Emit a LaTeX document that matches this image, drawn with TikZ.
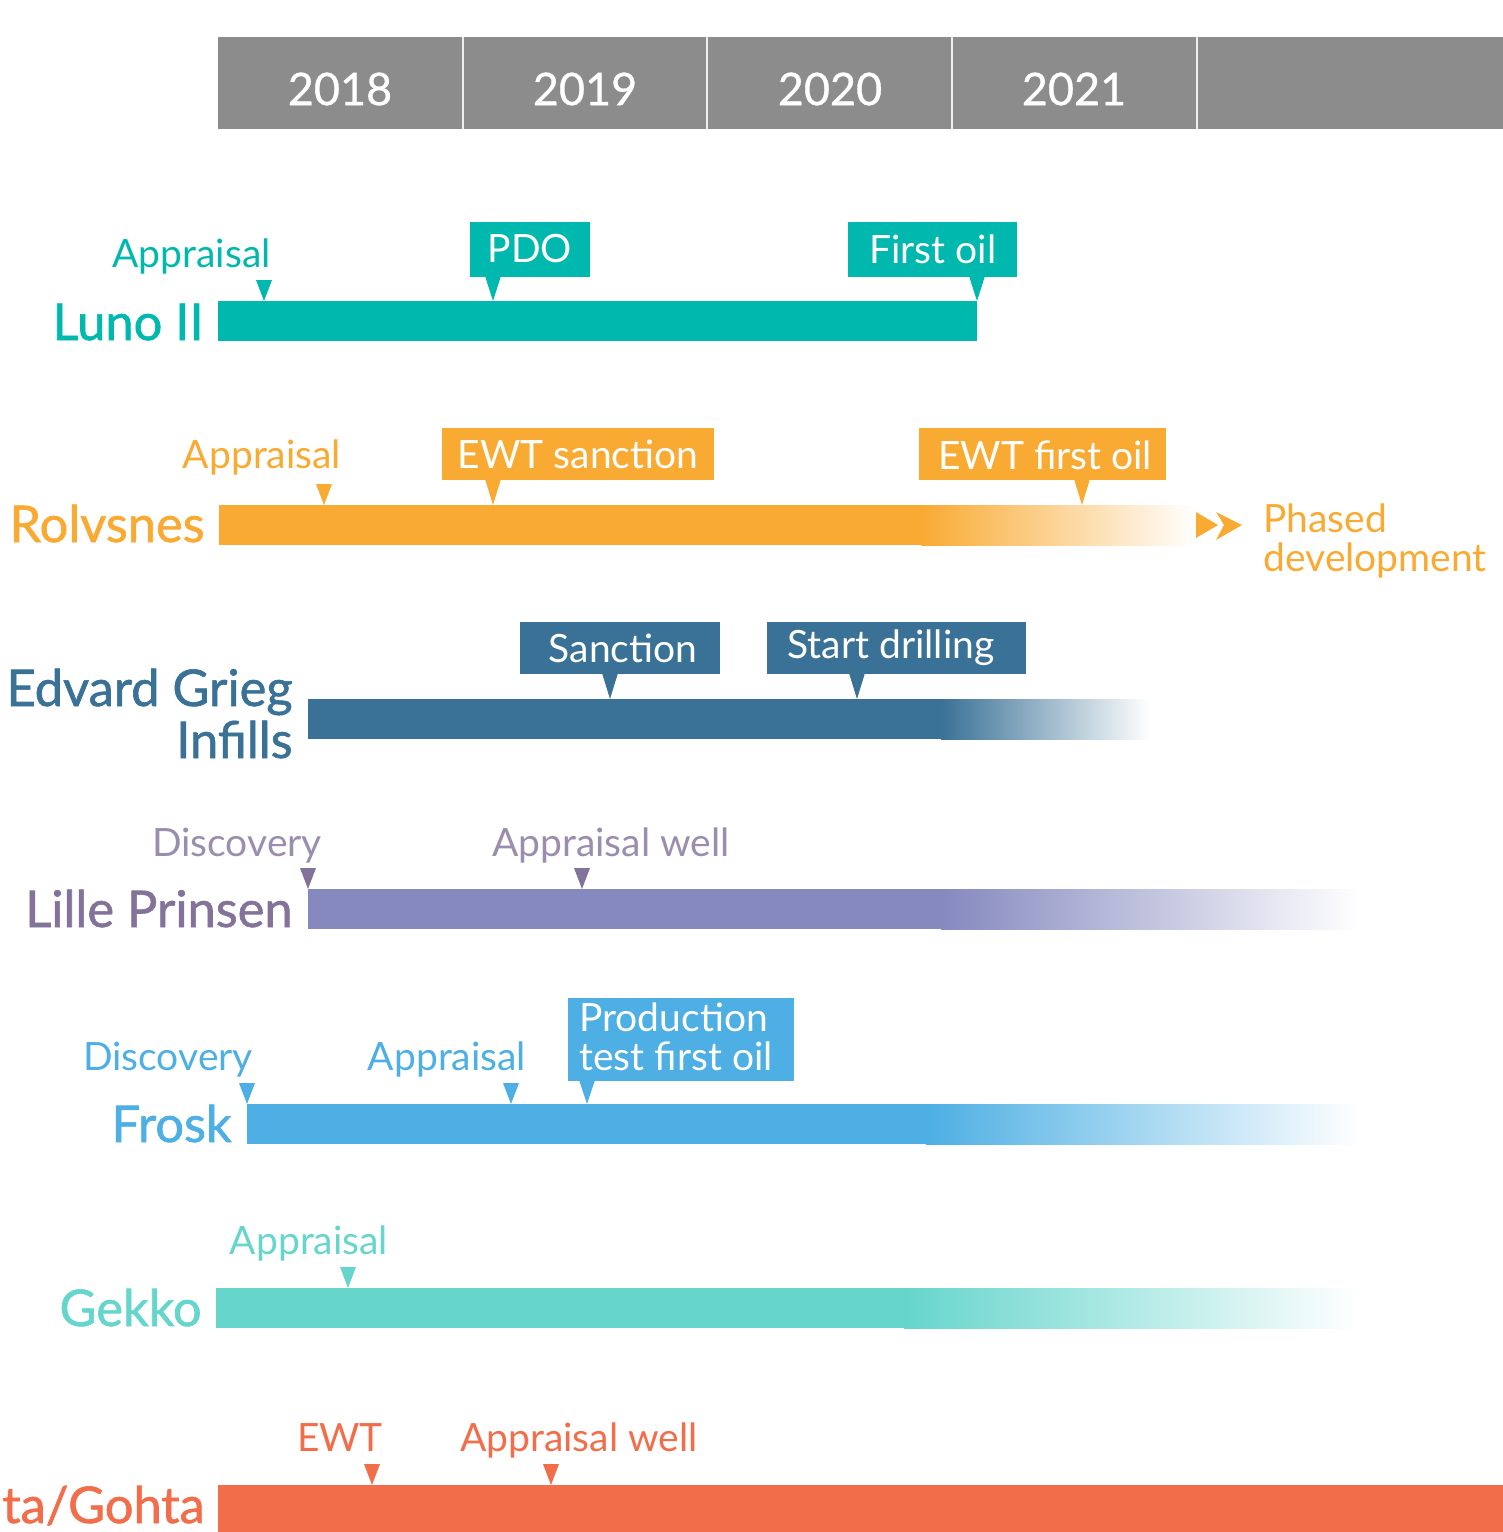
\documentclass[tikz,border=0pt]{standalone}
\usepackage{fontspec}
\setmainfont{Lato}
\newfontfamily\labfont[FakeBold=1.2]{Lato}
\newfontfamily\yearfont[FakeBold=0.7]{Lato}
\definecolor{hdr}{HTML}{8C8C8C}
\definecolor{luno}{HTML}{00B8AD}
\definecolor{rolv}{HTML}{F9AA33}
\definecolor{edv}{HTML}{3A7196}
\definecolor{lilbar}{HTML}{8589BE}
\definecolor{lillab}{HTML}{83739A}
\definecolor{liltxt}{HTML}{9B8DAD}
\definecolor{frosk}{HTML}{4DAFE3}
\definecolor{gekko}{HTML}{66D5CC}
\definecolor{alta}{HTML}{F26E4B}
% pin: x, bar top, colour
\newcommand\pin[3]{\fill[#3] (#1-8,#2-21) -- (#1+8,#2-21) -- (#1,#2) -- cycle;}
% callout pointer: x, box bottom, bar top, colour
\newcommand\ptr[4]{\fill[#4] (#1-8,#2-1) -- (#1+8,#2-1) -- (#1,#3) -- cycle;}
\begin{document}
\begin{tikzpicture}[x=0.5pt,y=-0.5pt,
  year/.style={text=white,font=\yearfont\fontsize{22.5}{27}\selectfont},
  rowlabel/.style={anchor=base east,font=\labfont\fontsize{25.3}{26}\selectfont,align=right,inner sep=0pt},
  small/.style={anchor=base,font=\fontsize{19.5}{20}\selectfont,inner sep=0pt},
  boxtxt/.style={text=white,font=\fontsize{19.5}{20}\selectfont,inner sep=0pt}]
\useasboundingbox (0,0) rectangle (1503,1532);
\clip (0,0) rectangle (1503,1532);

% year header
\fill[hdr] (218,37) rectangle (1503,129);
\foreach \x in {463,707,952,1197} \draw[white!85!hdr,line width=0.8pt] (\x,37) -- (\x,129);
\node[year] (y18) at (340,89) {2018};
\node[year] (y19) at (585,89) {2019};
\node[year] (y20) at (830,89) {2020};
\node[year] (y21) at (1074,89) {2021};

% Luno II
\fill[luno] (218,301) rectangle (977,341);
\node[rowlabel,text=luno] (lunol) at (204,340) {Luno II};
\node[small,text=luno,anchor=base east] (luapp) at (271,267) {Appraisal};
\pin{264}{301}{luno}
\fill[luno] (470,222) rectangle (590,277);
\node[boxtxt] (pdo) at (530,249) {PDO};
\ptr{493}{277}{301}{luno}
\fill[luno] (848,222) rectangle (1017,277);
\node[boxtxt] (lufo) at (933,249) {First oil};
\ptr{977}{277}{301}{luno}

% Rolvsnes
\fill[rolv] (219,505) rectangle (922,545);
\shade[left color=rolv,right color=white] (921,505) rectangle (1196,545);
\node[rowlabel,text=rolv] (rolvl) at (205,542) {Rolvsnes};
\node[small,text=rolv] (roapp) at (262,468) {Appraisal};
\pin{324}{505}{rolv}
\fill[rolv] (442,428) rectangle (714,480);
\node[boxtxt] (ewts) at (578,454) {EWT sanction};
\ptr{493}{480}{505}{rolv}
\fill[rolv] (919,428) rectangle (1166,480);
\node[boxtxt] (ewtf) at (1045,455) {EWT first oil};
\ptr{1082}{480}{505}{rolv}
\fill[rolv] (1196,512) -- (1218,525) -- (1196,538) -- cycle;
\fill[rolv] (1216,512) -- (1242,525) -- (1216,540) -- (1224,525) -- cycle;
\node[anchor=north west,text=rolv,font=\fontsize{19.5}{19.5}\selectfont,align=left,inner sep=0pt] (phase) at (1263,503) {Phased\\development};

% Edvard Grieg Infills
\fill[edv] (308,699) rectangle (942,739);
\shade[left color=edv,right color=white] (941,699) rectangle (1150,739);
\node[rowlabel,text=edv] (edvl) at (293,758) {Edvard Grieg\\Infills};
\fill[edv] (520,622) rectangle (720,674);
\node[boxtxt] (sanc) at (623,648) {Sanction};
\ptr{610}{674}{699}{edv}
\fill[edv] (767,622) rectangle (1026,674);
\node[boxtxt] (sdr) at (891,648) {Start drilling};
\ptr{857}{674}{699}{edv}

% Lille Prinsen
\fill[lilbar] (308,889) rectangle (942,929);
\shade[left color=lilbar,right color=white] (941,889) rectangle (1360,929);
\node[rowlabel,text=lillab] (lill) at (293,927) {Lille Prinsen};
\node[small,text=liltxt] (lidis) at (237,856) {Discovery};
\pin{308}{889}{lillab}
\node[small,text=liltxt] (liapp) at (611,856) {Appraisal well};
\pin{582}{889}{lillab}

% Frosk
\fill[frosk] (247,1104) rectangle (927,1144);
\shade[left color=frosk,right color=white] (926,1104) rectangle (1360,1144);
\node[rowlabel,text=frosk] (froskl) at (232,1142) {Frosk};
\node[small,text=frosk] (frdis) at (168,1070) {Discovery};
\pin{247}{1104}{frosk}
\node[small,text=frosk] (frapp) at (447,1070) {Appraisal};
\pin{511}{1104}{frosk}
\fill[frosk] (568,998) rectangle (794,1081);
\node[boxtxt,anchor=north west,align=left,font=\fontsize{19.5}{19.5}\selectfont] (prod) at (579,1002) {Production\\test first oil};
\ptr{587}{1081}{1104}{frosk}

% Gekko
\fill[gekko] (216,1288) rectangle (905,1328);
\shade[left color=gekko,right color=white] (904,1288) rectangle (1360,1328);
\node[rowlabel,text=gekko] (gekl) at (202,1326) {Gekko};
\node[small,text=gekko] (geapp) at (309,1254) {Appraisal};
\pin{348}{1288}{gekko}

% Alta/Gohta
\fill[alta] (218,1485) rectangle (1503,1532);
\node[rowlabel,text=alta] (altal) at (205,1523) {Alta/Gohta};
\node[small,text=alta] (alewt) at (340,1451) {EWT};
\pin{372}{1485}{alta}
\node[small,text=alta] (alapp) at (579,1451) {Appraisal well};
\pin{551}{1485}{alta}
\end{tikzpicture}
\end{document}
